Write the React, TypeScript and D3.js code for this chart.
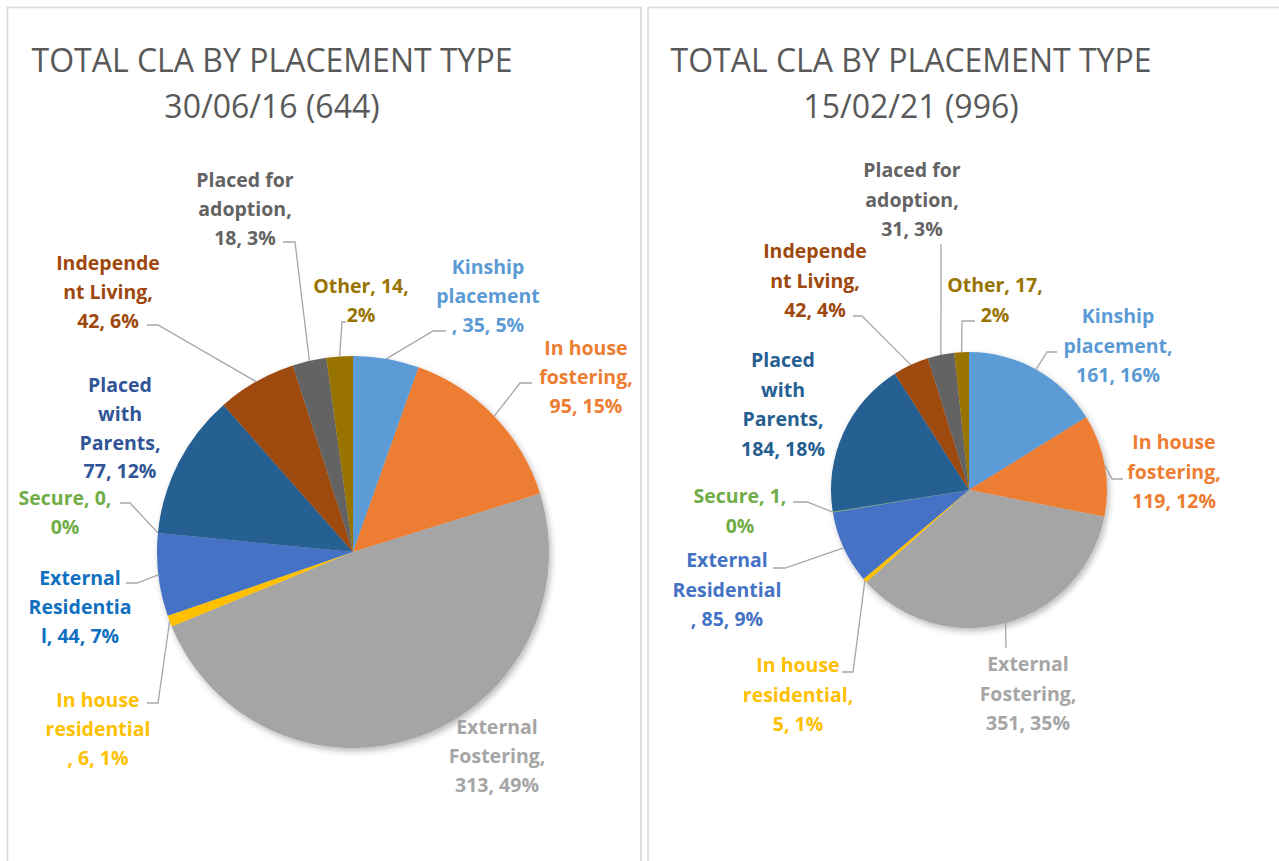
import React from "react";
import * as d3 from "d3";

// ---------- DATA ----------
const categories = [
  "Kinship placement",
  "In house fostering",
  "External Fostering",
  "In house residential",
  "External Residential",
  "Secure",
  "Placed with Parents",
  "Independent Living",
  "Placed for adoption",
  "Other",
];
const values2016 = [35, 95, 313, 6, 44, 0, 77, 42, 18, 14];
const pct2016 = [5, 15, 49, 1, 7, 0, 12, 6, 3, 2];
const values2021 = [161, 119, 351, 5, 85, 1, 184, 42, 31, 17];
const pct2021 = [16, 12, 35, 1, 9, 0, 18, 4, 3, 2];
const titleMain = "TOTAL CLA BY PLACEMENT TYPE";
const date2016 = "30/06/16";
const date2021 = "15/02/21";

// ---------- STYLE ----------
const sliceColors = [
  "#5B9BD5",
  "#ED7D31",
  "#A5A5A5",
  "#FFC000",
  "#4472C4",
  "#70AD47",
  "#255E91",
  "#9E480E",
  "#636363",
  "#997300",
];
const labelColors2016 = [
  "#5B9BD5",
  "#ED7D31",
  "#A5A5A5",
  "#FFC000",
  "#0F6FC0",
  "#70AD47",
  "#2F5597",
  "#9E480E",
  "#636363",
  "#997300",
];
const labelColors2021 = [
  "#5B9BD5",
  "#ED7D31",
  "#A5A5A5",
  "#FFC000",
  "#4472C4",
  "#70AD47",
  "#255E91",
  "#9E480E",
  "#636363",
  "#997300",
];

type Pt = [number, number];
type LabelLayout = { cx: number; y: number; cuts: number[]; leader: Pt[] | null };

const layout2016: LabelLayout[] = [
  { cx: 488, y: 274, cuts: [7, 17], leader: [[433, 331], [446, 331]] },
  { cx: 586, y: 355, cuts: [8, 19], leader: [[520, 383], [532, 383]] },
  { cx: 497, y: 734, cuts: [8, 19], leader: null },
  { cx: 98, y: 707, cuts: [8, 20], leader: [[158, 703], [147, 703]] },
  { cx: 80, y: 585, cuts: [8, 19], leader: [[137, 583], [126, 583]] },
  { cx: 65, y: 505, cuts: [10], leader: [[130, 503], [120, 503]] },
  { cx: 120, y: 392, cuts: [6, 11, 20], leader: null },
  { cx: 108, y: 270, cuts: [9, 19], leader: [[158, 325], [147, 325]] },
  { cx: 245, y: 187, cuts: [10, 20], leader: [[295, 242], [283, 242]] },
  { cx: 361, y: 293, cuts: [10], leader: [[342, 322], [346, 322]] },
];

const layout2021: LabelLayout[] = [
  { cx: 1118, y: 323, cuts: [7, 18], leader: [[1047, 352], [1057, 352]] },
  { cx: 1174, y: 449, cuts: [8, 19], leader: [[1112, 479], [1123, 479]] },
  { cx: 1028, y: 671, cuts: [8, 19], leader: [[1006, 648]] },
  { cx: 798, y: 672, cuts: [8, 21], leader: [[853, 672], [842, 672]] },
  { cx: 727, y: 567, cuts: [8, 20], leader: [[785, 568], [773, 568]] },
  { cx: 740, y: 503, cuts: [10], leader: [[807, 502], [793, 502]] },
  { cx: 783, y: 367, cuts: [6, 11, 20], leader: null },
  { cx: 815, y: 258, cuts: [9, 19], leader: [[862, 316], [853, 316]] },
  { cx: 912, y: 177, cuts: [10, 20], leader: [[941, 244]] },
  { cx: 995, y: 292, cuts: [10], leader: [[962, 321], [975, 321]] },
];

function splitAt(text: string, cuts: number[]): string[] {
  const out: string[] = [];
  let prev = 0;
  for (const c of cuts) {
    out.push(text.slice(prev, c).trim());
    prev = c;
  }
  out.push(text.slice(prev).trim());
  return out;
}

const labelFont = "'Open Sans', 'Liberation Sans', sans-serif";

function PieChart(props: {
  values: number[];
  pcts: number[];
  date: string;
  cx: number;
  cy: number;
  r: number;
  titleX: number;
  layout: LabelLayout[];
  labelColors: string[];
  lineH: number;
  shadowId: string;
}) {
  const { values, pcts, date, cx, cy, r, titleX, layout, labelColors, lineH, shadowId } = props;
  const pie = d3
    .pie<number>()
    .sort(null)
    .value((d) => d)
    .startAngle(0)
    .endAngle(2 * Math.PI);
  const arcs = pie(values);
  const arc = d3.arc<d3.PieArcDatum<number>>().innerRadius(0).outerRadius(r);
  const total = d3.sum(values);
  const line = d3.line();

  return (
    <g>
      <text
        x={titleX}
        y={72}
        textAnchor="middle"
        fontFamily={labelFont}
        fontSize={32}
        fill="#595959"
      >
        {titleMain}
      </text>
      <text
        x={titleX}
        y={118}
        textAnchor="middle"
        fontFamily={labelFont}
        fontSize={32}
        fill="#595959"
      >
        {`${date} (${total})`}
      </text>
      <g transform={`translate(${cx},${cy})`} filter={`url(#${shadowId})`}>
        {arcs.map((a, i) =>
          a.endAngle - a.startAngle > 0 ? (
            <path key={i} d={arc(a) || ""} fill={sliceColors[i]} />
          ) : null
        )}
      </g>
      {arcs.map((a, i) => {
        const L = layout[i];
        if (!L.leader) return null;
        const mid = (a.startAngle + a.endAngle) / 2;
        const edge: Pt = [cx + r * Math.sin(mid), cy - r * Math.cos(mid)];
        const pts: Pt[] = [edge, ...L.leader];
        return (
          <path
            key={"l" + i}
            d={line(pts) || ""}
            fill="none"
            stroke="#A6A6A6"
            strokeWidth={1.3}
          />
        );
      })}
      {arcs.map((a, i) => {
        const L = layout[i];
        const txt = `${categories[i]}, ${values[i]}, ${pcts[i]}%`;
        const lines = splitAt(txt, L.cuts);
        return (
          <text
            key={"t" + i}
            textAnchor="middle"
            fontFamily={labelFont}
            fontWeight={700}
            fontSize={19.5}
            fill={labelColors[i]}
          >
            {lines.map((s, j) => (
              <tspan key={j} x={L.cx} y={L.y + j * lineH}>
                {s}
              </tspan>
            ))}
          </text>
        );
      })}
    </g>
  );
}

export default function App() {
  return (
    <svg
      width={1279}
      height={861}
      style={{ position: "absolute", left: 0, top: 0, background: "#fff" }}
    >
      <defs>
        <filter id="shadowA" x="-20%" y="-20%" width="140%" height="140%">
          <feDropShadow dx={2} dy={3} stdDeviation={3} floodColor="#000" floodOpacity={0.28} />
        </filter>
        <filter id="shadowB" x="-20%" y="-20%" width="140%" height="140%">
          <feDropShadow dx={2} dy={3} stdDeviation={3} floodColor="#000" floodOpacity={0.28} />
        </filter>
      </defs>
      <rect x={0} y={0} width={1279} height={861} fill="#fff" />
      <rect x={7.5} y={7.5} width={633.5} height={900} fill="#fff" stroke="#D9D9D9" strokeWidth={1.6} />
      <rect x={648} y={7.5} width={700} height={900} fill="#fff" stroke="#D9D9D9" strokeWidth={1.6} />
      <PieChart
        values={values2016}
        pcts={pct2016}
        date={date2016}
        cx={353}
        cy={552}
        r={196}
        titleX={272}
        layout={layout2016}
        labelColors={labelColors2016}
        lineH={28.8}
        shadowId="shadowA"
      />
      <PieChart
        values={values2021}
        pcts={pct2021}
        date={date2021}
        cx={969}
        cy={490}
        r={138}
        titleX={911}
        layout={layout2021}
        labelColors={labelColors2021}
        lineH={29.5}
        shadowId="shadowB"
      />
    </svg>
  );
}
